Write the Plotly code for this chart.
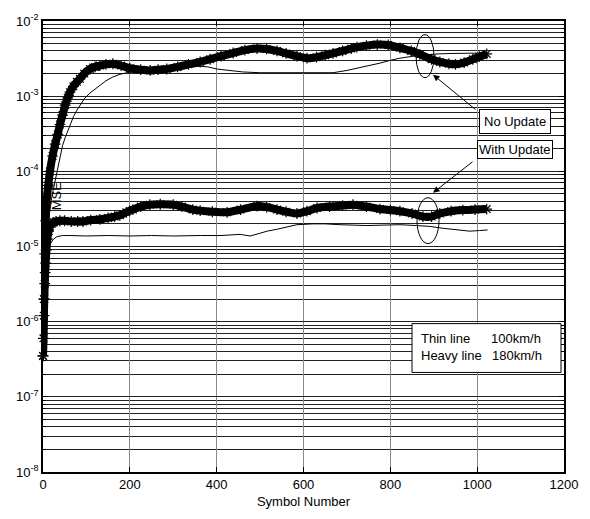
import plotly.graph_objects as go

# ---- data: MSE versus symbol number ----
# No Update, 180 km/h (heavy line)
nu_heavy_x = [0, 2, 4, 6, 8, 12, 16, 22, 28, 34, 39, 45, 51, 57, 62, 70, 78, 85, 95, 108,
              120, 131, 145, 161, 180, 200, 225, 247, 265, 285, 310, 335, 362, 385, 410,
              438, 465, 493, 515, 539, 560, 585, 608, 630, 650, 668, 690, 710, 723, 745,
              770, 795, 822, 848, 868, 895, 914, 935, 950, 970, 990, 1005, 1022]
nu_heavy_y = [3.5e-7, 2e-6, 8e-6, 2.2e-5, 3.8e-5, 6.5e-5, 1.0e-4, 1.6e-4, 2.3e-4, 3.1e-4,
              4.2e-4, 5.6e-4, 7.6e-4, 9.5e-4, 1.13e-3, 1.35e-3, 1.55e-3, 1.7e-3, 2.0e-3,
              2.3e-3, 2.45e-3, 2.55e-3, 2.65e-3, 2.7e-3, 2.55e-3, 2.35e-3, 2.25e-3, 2.2e-3,
              2.25e-3, 2.3e-3, 2.45e-3, 2.65e-3, 2.85e-3, 3.1e-3, 3.4e-3, 3.75e-3, 4.1e-3,
              4.3e-3, 4.25e-3, 4.0e-3, 3.7e-3, 3.4e-3, 3.2e-3, 3.3e-3, 3.5e-3, 3.7e-3,
              4.0e-3, 4.3e-3, 4.5e-3, 4.7e-3, 4.85e-3, 4.8e-3, 4.4e-3, 4.0e-3, 3.6e-3,
              3.1e-3, 2.85e-3, 2.7e-3, 2.65e-3, 2.8e-3, 3.1e-3, 3.35e-3, 3.65e-3]

# No Update, 100 km/h (thin line)
nu_thin_x = [0, 3, 6, 10, 14, 20, 28, 34, 39, 45, 51, 57, 62, 70, 78, 85, 95, 108, 120, 131,
             145, 161, 177, 193, 215, 240, 270, 300, 330, 362, 380, 400, 424, 460, 500, 539,
             580, 620, 668, 700, 725, 746, 776, 800, 822, 852, 880, 910, 940, 970, 1000, 1024]
nu_thin_y = [3e-7, 1.5e-6, 5e-6, 1.3e-5, 2.5e-5, 4.5e-5, 7.6e-5, 1.15e-4, 1.6e-4, 2.2e-4,
             2.8e-4, 3.5e-4, 4.2e-4, 5.3e-4, 6.5e-4, 7.6e-4, 9.2e-4, 1.1e-3, 1.25e-3, 1.4e-3,
             1.6e-3, 1.8e-3, 1.95e-3, 2.05e-3, 2.15e-3, 2.2e-3, 2.25e-3, 2.3e-3, 2.4e-3,
             2.5e-3, 2.45e-3, 2.3e-3, 2.2e-3, 2.1e-3, 2.05e-3, 2.05e-3, 2.05e-3, 2.05e-3,
             2.05e-3, 2.2e-3, 2.35e-3, 2.5e-3, 2.75e-3, 3.0e-3, 3.2e-3, 3.4e-3, 3.55e-3,
             3.65e-3, 3.7e-3, 3.7e-3, 3.7e-3, 3.75e-3]

# With Update, 180 km/h (heavy line)
wu_heavy_x = [0, 1, 2, 3, 4, 5, 6, 8, 10, 13, 16, 20, 25, 30, 39, 50, 65, 80, 92, 110, 131,
              150, 165, 177, 192, 207, 225, 246, 270, 300, 320, 345, 362, 390, 424, 455, 493,
              515, 539, 560, 585, 608, 631, 660, 690, 714, 745, 776, 800, 822, 850, 875, 895,
              914, 940, 967, 995, 1022]
wu_heavy_y = [3.5e-7, 6e-7, 1.2e-6, 2e-6, 3.2e-6, 4.5e-6, 6e-6, 9e-6, 1.25e-5, 1.6e-5,
              1.85e-5, 2.0e-5, 2.1e-5, 2.15e-5, 2.2e-5, 2.2e-5, 2.15e-5, 2.15e-5, 2.15e-5,
              2.25e-5, 2.3e-5, 2.4e-5, 2.5e-5, 2.6e-5, 2.85e-5, 3.1e-5, 3.4e-5, 3.6e-5,
              3.65e-5, 3.6e-5, 3.4e-5, 3.1e-5, 3.0e-5, 2.9e-5, 2.85e-5, 3.1e-5, 3.45e-5,
              3.35e-5, 3.1e-5, 2.9e-5, 2.75e-5, 2.95e-5, 3.25e-5, 3.4e-5, 3.5e-5, 3.6e-5,
              3.4e-5, 3.15e-5, 3.05e-5, 2.95e-5, 2.75e-5, 2.5e-5, 2.5e-5, 2.75e-5, 2.95e-5,
              3.05e-5, 3.1e-5, 3.15e-5]

# With Update, 100 km/h (thin line)
wu_thin_x = [0, 2, 4, 6, 8, 12, 16, 24, 32, 45, 62, 100, 150, 200, 250, 300, 362, 410, 454,
             477, 500, 516, 540, 562, 585, 622, 650, 684, 746, 790, 822, 860, 891, 920, 953,
             983, 1005, 1024]
wu_thin_y = [3e-7, 1e-6, 2.5e-6, 4.5e-6, 6.5e-6, 9e-6, 1.07e-5, 1.25e-5, 1.35e-5, 1.4e-5,
             1.4e-5, 1.38e-5, 1.4e-5, 1.38e-5, 1.4e-5, 1.38e-5, 1.4e-5, 1.4e-5, 1.45e-5,
             1.38e-5, 1.5e-5, 1.6e-5, 1.7e-5, 1.8e-5, 1.95e-5, 2.0e-5, 2.0e-5, 1.95e-5,
             1.9e-5, 1.93e-5, 1.95e-5, 1.9e-5, 1.85e-5, 1.75e-5, 1.66e-5, 1.6e-5, 1.63e-5,
             1.66e-5]

x_ticks = [0, 200, 400, 600, 800, 1000, 1200]
y_exponents = [-8, -7, -6, -5, -4, -3, -2]

# ---- plot frame in pixels (used to place boxes and callouts) ----
W, H = 590, 519
PL, PR, PT, PB = 43, 564, 14, 476


def sym_at(px):
    return (px - PL) / (PR - PL) * 1200


def logmse_at(py):
    return -2 - (py - PT) / (PB - PT) * 6


def mse_at(py):
    return 10 ** logmse_at(py)


fig = go.Figure()

thin_line = dict(color="black", width=1)
for xs, ys in [(nu_thin_x, nu_thin_y), (wu_thin_x, wu_thin_y)]:
    fig.add_trace(go.Scatter(x=xs, y=ys, mode="lines", line=thin_line,
                             showlegend=False, hoverinfo="skip"))

for xs, ys in [(nu_heavy_x, nu_heavy_y), (wu_heavy_x, wu_heavy_y)]:
    fig.add_trace(go.Scatter(
        x=xs, y=ys, mode="lines+markers",
        line=dict(color="black", width=8, shape="spline", smoothing=0.6),
        marker=dict(symbol="asterisk-open", size=9, color="black",
                    line=dict(color="black", width=1.2)),
        cliponaxis=False, showlegend=False, hoverinfo="skip"))

minor_vals = [k * 10.0 ** e for e in range(-8, -2) for k in range(2, 10)]

fig.update_layout(
    width=W, height=H, autosize=False,
    margin=dict(l=PL, r=W - PR, t=PT, b=H - PB, pad=0),
    paper_bgcolor="white", plot_bgcolor="white",
    font=dict(family="Liberation Sans, Arial, sans-serif", size=13, color="black"),
    xaxis=dict(
        range=[0, 1200], tickvals=x_ticks, ticktext=[str(v) for v in x_ticks],
        showgrid=True, gridcolor="#8a8a8a", gridwidth=1, zeroline=False,
        showline=True, linecolor="black", linewidth=1.5, mirror="ticks",
        ticks="inside", ticklen=5, tickcolor="black",
        tickfont=dict(size=13),
        title=dict(text="Symbol Number", font=dict(size=13), standoff=6),
    ),
    yaxis=dict(
        type="log", range=[-8, -2],
        tickvals=[10.0 ** e for e in y_exponents],
        ticktext=["10<sup>%d</sup>" % e for e in y_exponents],
        showgrid=True, gridcolor="#222222", gridwidth=1, zeroline=False,
        showline=True, linecolor="black", linewidth=1.5, mirror="ticks",
        ticks="inside", ticklen=5, tickcolor="black",
        tickfont=dict(size=13),
        minor=dict(tickvals=minor_vals, showgrid=True, gridcolor="#222222",
                   gridwidth=1, ticks="inside", ticklen=3, tickcolor="black"),
    ),
)

# y-axis label
fig.add_annotation(text="MSE", xref="paper", yref="paper",
                   x=(47 - PL) / (PR - PL), y=(PB - 193) / (PB - PT),
                   textangle=-90, showarrow=False, font=dict(size=13))

# ellipses marking the two groups of curves
for (x0, x1, y0, y1) in [(416, 434, 28, 72), (417, 439, 195, 242)]:
    fig.add_shape(type="circle", xref="x", yref="y",
                  x0=sym_at(x0), x1=sym_at(x1), y0=mse_at(y1), y1=mse_at(y0),
                  line=dict(color="black", width=1), layer="above")

# callout arrows
for (tx, ty, hx, hy) in [(477, 106, 433, 69), (474, 157, 433, 190)]:
    fig.add_annotation(text="", xref="x", yref="y", axref="x", ayref="y",
                       x=sym_at(hx), y=logmse_at(hy), ax=sym_at(tx), ay=logmse_at(ty),
                       showarrow=True, arrowhead=2, arrowsize=1.3, arrowwidth=1,
                       arrowcolor="black")

# callout boxes
fig.add_annotation(text="No Update", xref="x", yref="y",
                   x=sym_at(514.5), y=logmse_at(117), showarrow=False,
                   bgcolor="white", bordercolor="black", borderwidth=1, borderpad=4,
                   font=dict(size=13))
fig.add_annotation(text="With Update", xref="x", yref="y",
                   x=sym_at(515), y=logmse_at(145.5), showarrow=False,
                   bgcolor="white", bordercolor="black", borderwidth=1, borderpad=1,
                   font=dict(size=13))

# line-weight key
fig.add_shape(type="rect", xref="x", yref="y",
              x0=sym_at(412), x1=sym_at(561), y0=mse_at(374), y1=mse_at(324),
              line=dict(color="black", width=1), fillcolor="white", layer="above")
for (txt, px, py) in [("Thin line", 419, 339), ("100km/h", 489, 339),
                      ("Heavy line", 419, 357), ("180km/h", 490, 357)]:
    fig.add_annotation(text=txt, xref="x", yref="y", x=sym_at(px), y=logmse_at(py),
                       xanchor="left", yanchor="middle", showarrow=False,
                       font=dict(size=13))

fig.write_html("out.html")
